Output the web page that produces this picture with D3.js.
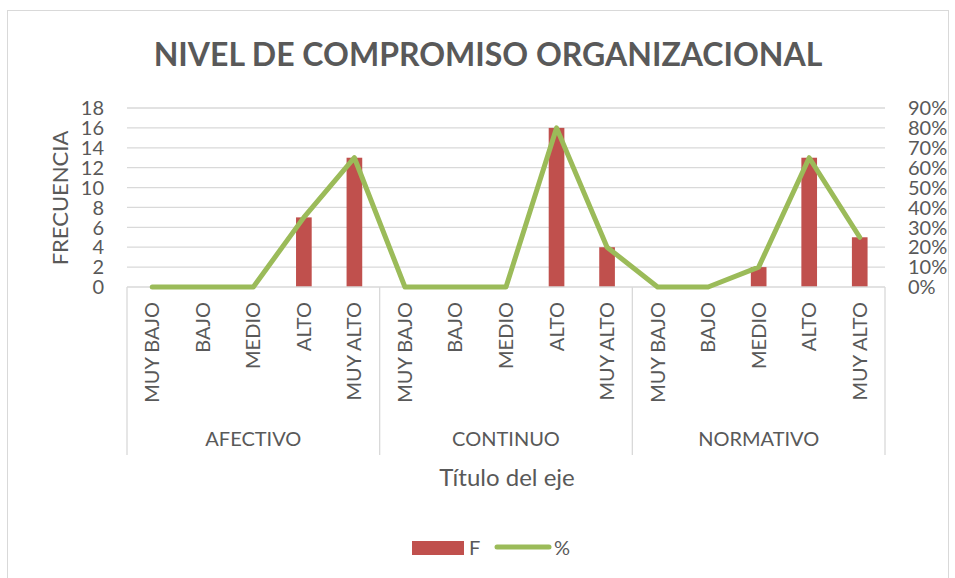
<!DOCTYPE html>
<html>
<head>
<meta charset="utf-8">
<script src="https://cdn.jsdelivr.net/npm/d3@7"></script>
<style>
  body { margin: 0; background: #fff; }
  text { font-family: Lato, "Open Sans", sans-serif; fill: #595959; }
</style>
</head>
<body>
<svg id="chart" width="955" height="578"></svg>
<script>
// Data
const groups = ["AFECTIVO", "CONTINUO", "NORMATIVO"];
const levels = ["MUY BAJO", "BAJO", "MEDIO", "ALTO", "MUY ALTO"];
const freq = [0, 0, 0, 7, 13, 0, 0, 0, 16, 4, 0, 0, 2, 13, 5];
const pct = [0, 0, 0, 0.35, 0.65, 0, 0, 0, 0.80, 0.20, 0, 0, 0.10, 0.65, 0.25];
const leftTicks = [0, 2, 4, 6, 8, 10, 12, 14, 16, 18];
const rightTicks = [0, 0.1, 0.2, 0.3, 0.4, 0.5, 0.6, 0.7, 0.8, 0.9];

const barColor = '#C0504D';
const lineColor = '#9BBB59';
const gridColor = '#d9d9d9';

const svg = d3.select('#chart');

// chart border
svg.append('rect')
    .attr('x', 7.5).attr('y', 10.5)
    .attr('width', 941).attr('height', 570)
    .attr('fill', 'none')
    .attr('stroke', '#d9d9d9');

const plot = { left: 127, right: 885, top: 108, bottom: 287 };

// one key per bar slot
const keys = [];
groups.forEach(g => levels.forEach(l => keys.push({ group: g, level: l })));
const data = keys.map((k, i) => ({ ...k, i: i, f: freq[i], p: pct[i] }));

const x = d3.scaleBand()
    .domain(d3.range(keys.length))
    .range([plot.left, plot.right])
    .paddingInner(0.69)
    .paddingOuter(0.345);

const yL = d3.scaleLinear().domain([0, 18]).range([plot.bottom, plot.top]);
const yR = d3.scaleLinear().domain([0, 0.9]).range([plot.bottom, plot.top]);

// Gridlines
svg.append('g')
    .selectAll('line')
    .data(leftTicks.slice(1))
    .join('line')
    .attr('x1', plot.left).attr('x2', plot.right)
    .attr('y1', d => yL(d)).attr('y2', d => yL(d))
    .attr('stroke', gridColor)
    .attr('stroke-width', 1.3);

// Left axis labels
svg.append('g')
    .selectAll('text')
    .data(leftTicks)
    .join('text')
    .attr('x', plot.left - 23)
    .attr('y', d => yL(d))
    .attr('dy', '0.36em')
    .attr('text-anchor', 'end')
    .attr('font-size', 20)
    .text(d => d);

// Right axis labels
svg.append('g')
    .selectAll('text')
    .data(rightTicks)
    .join('text')
    .attr('x', plot.right + 23)
    .attr('y', d => yR(d))
    .attr('dy', '0.36em')
    .attr('text-anchor', 'start')
    .attr('font-size', 20)
    .text(d => d3.format('.0%')(d));

// Bars
svg.append('g')
    .selectAll('rect')
    .data(data)
    .join('rect')
    .attr('x', d => x(d.i))
    .attr('width', x.bandwidth())
    .attr('y', d => yL(d.f))
    .attr('height', d => yL(0) - yL(d.f))
    .attr('fill', barColor);

// Category axis: baseline and group separators
const step = x.step();
const axisG = svg.append('g');
axisG.append('line')
    .attr('x1', plot.left).attr('x2', plot.right)
    .attr('y1', plot.bottom).attr('y2', plot.bottom)
    .attr('stroke', gridColor).attr('stroke-width', 1.3);
d3.range(groups.length + 1).forEach(g => {
    const gx = plot.left + g * levels.length * step;
    axisG.append('line')
        .attr('x1', gx).attr('x2', gx)
        .attr('y1', plot.bottom).attr('y2', 455)
        .attr('stroke', gridColor).attr('stroke-width', 1.3);
});

// Level labels (rotated)
axisG.selectAll('text.level')
    .data(data)
    .join('text')
    .attr('class', 'level')
    .attr('transform', d => `translate(${x(d.i) + x.bandwidth() / 2 + 7}, 302) rotate(-90)`)
    .attr('text-anchor', 'end')
    .attr('font-size', 20)
    .text(d => d.level);

// Group labels
axisG.selectAll('text.group')
    .data(groups)
    .join('text')
    .attr('class', 'group')
    .attr('x', (d, g) => plot.left + (g + 0.5) * levels.length * step)
    .attr('y', 446)
    .attr('text-anchor', 'middle')
    .attr('font-size', 20)
    .text(d => d);

// Line series
const line = d3.line()
    .x(d => x(d.i) + x.bandwidth() / 2)
    .y(d => yR(d.p));
svg.append('path')
    .datum(data)
    .attr('d', line)
    .attr('fill', 'none')
    .attr('stroke', lineColor)
    .attr('stroke-width', 5)
    .attr('stroke-linejoin', 'round')
    .attr('stroke-linecap', 'round');

// Titles
svg.append('text')
    .attr('x', 488).attr('y', 66)
    .attr('text-anchor', 'middle')
    .attr('font-size', 32)
    .attr('font-weight', 'bold')
    .text('NIVEL DE COMPROMISO ORGANIZACIONAL');

svg.append('text')
    .attr('transform', 'translate(68, 198) rotate(-90)')
    .attr('text-anchor', 'middle')
    .attr('font-size', 22)
    .text('FRECUENCIA');

svg.append('text')
    .attr('x', 507).attr('y', 486)
    .attr('text-anchor', 'middle')
    .attr('font-size', 24)
    .text('Título del eje');

// Legend
const legend = svg.append('g');
legend.append('rect')
    .attr('x', 412).attr('y', 541)
    .attr('width', 52).attr('height', 14)
    .attr('fill', barColor);
legend.append('text')
    .attr('x', 469).attr('y', 555)
    .attr('font-size', 20)
    .text('F');
legend.append('line')
    .attr('x1', 497).attr('x2', 549)
    .attr('y1', 547).attr('y2', 547)
    .attr('stroke', lineColor)
    .attr('stroke-width', 5)
    .attr('stroke-linecap', 'round');
legend.append('text')
    .attr('x', 554).attr('y', 555)
    .attr('font-size', 20)
    .text('%');
</script>
</body>
</html>
